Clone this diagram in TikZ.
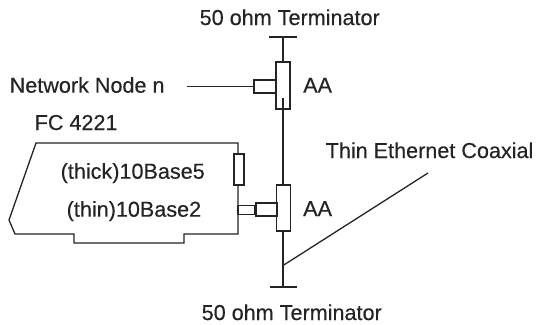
\documentclass[tikz,border=0pt]{standalone}
\usepackage{fontspec}
\setmainfont[FakeBold=0.35]{Liberation Sans}
\definecolor{ink}{gray}{0.14}
\tikzset{
  wire/.style={draw=ink,line width=1.3pt},
  boxn/.style={draw=ink,fill=white,line width=1.3pt,inner sep=0pt,outer sep=0pt,anchor=north west},
  lab/.style={text=ink,font=\fontsize{21.6}{24}\selectfont,inner sep=0pt,anchor=base west}
}
\begin{document}
\begin{tikzpicture}[x=1pt,y=-1pt]
\useasboundingbox (0,0) rectangle (537,324);
% card outline
\draw[wire,line join=miter] (36,143) -- (238,143) -- (238,234) -- (184,234) -- (184,243) -- (74,243) -- (74,234) -- (15,234) -- (9,220) -- cycle;
\node[boxn,minimum width=10pt,minimum height=31pt] (rj) at (234,154) {};
\node[boxn,minimum width=17pt,minimum height=9pt] (bnc) at (238,205.5) {};
% upper T
\coordinate (topbar) at (283,37);
\coordinate (topl) at (269,37);
\coordinate (topr) at (297,37);
\coordinate (upin) at (283,98);
\coordinate (netl) at (187,86.5);
\node[boxn,minimum width=14pt,minimum height=47pt] (ua) at (276,62) {};
\node[boxn,minimum width=22pt,minimum height=13pt] (us) at (254,80) {};
% lower T
\node[boxn,minimum width=14pt,minimum height=46pt] (la) at (276.5,185) {};
\node[boxn,minimum width=21pt,minimum height=13pt] (ls) at (256,203) {};
\coordinate (botl) at (270,287);
\coordinate (botr) at (297,287);
\coordinate (bot) at (283,287);
\coordinate (tap) at (283,265.5);
\coordinate (coax) at (428,173);
\draw[wire] (topl) -- (topr);
\draw[wire] (topbar) -- (ua.north -| topbar);
\draw[wire] (netl) -- (us.west);
\draw[wire] (upin) -- (la.north -| upin);
\draw[wire] (la.south -| bot) -- (bot);
\draw[wire] (botl) -- (botr);
\draw[wire] (tap) -- (coax);
\node[lab] (t1) at (199.5,25) {50 ohm Terminator};
\node[lab] (t2) at (201.5,320) {50 ohm Terminator};
\node[lab] (nn) at (9.5,92.7) {Network Node n};
\node[lab] (fc) at (34.5,130) {FC 4221};
\node[lab] (th) at (60.5,178.7) {(thick)10Base5};
\node[lab] (tn) at (66.5,216.7) {(thin)10Base2};
\node[lab] (a1) at (303,92.7) {AA};
\node[lab] (a2) at (303,216) {AA};
\node[lab] (co) at (325.5,158) {Thin Ethernet Coaxial};
\end{tikzpicture}
\end{document}
